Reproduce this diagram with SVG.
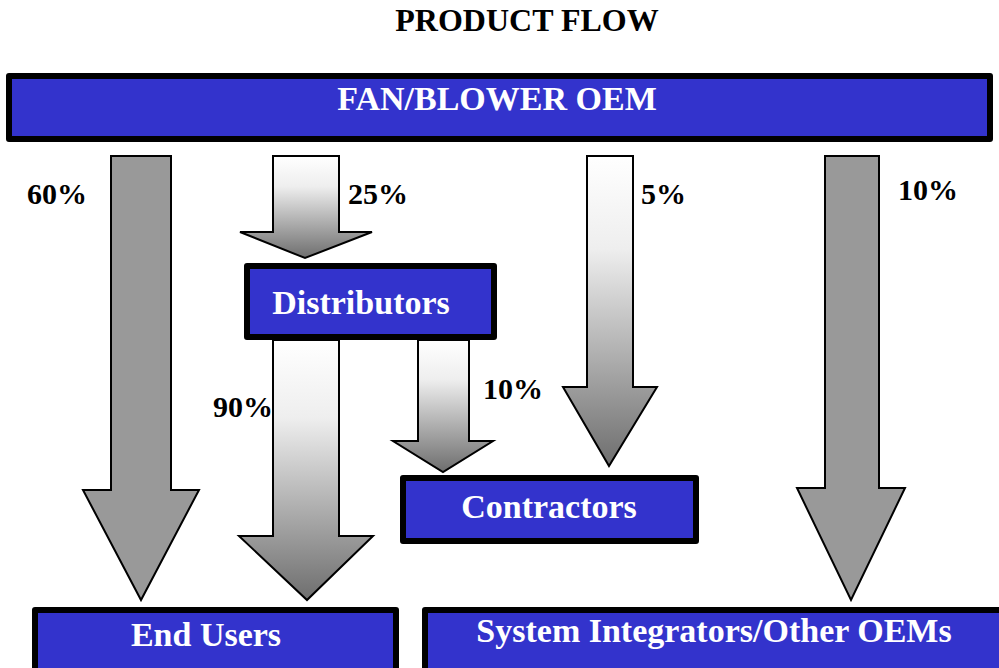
<svg xmlns="http://www.w3.org/2000/svg" width="999" height="668" viewBox="0 0 999 668">
<style>
.box{fill:#3333CC;stroke:#000;stroke-width:6;stroke-linejoin:round}
.bt{font-family:"Liberation Serif","Times New Roman",serif;font-weight:bold;fill:#fff;font-size:34px;text-anchor:middle}
.lbl{font-family:"Liberation Serif","Times New Roman",serif;font-weight:bold;fill:#000;font-size:30px}
.solid{fill:#999999;stroke:#000;stroke-width:2}
.grad{fill:url(#g);stroke:#000;stroke-width:2}
</style>
<defs>
<linearGradient id="g" x1="0" y1="0" x2="0" y2="1">
<stop offset="0" stop-color="#ffffff"/>
<stop offset="0.3" stop-color="#eeeeee"/>
<stop offset="1" stop-color="#6e6e6e"/>
</linearGradient>
</defs>
<rect width="999" height="668" fill="#fff"/>
<text x="527" y="31" font-family="Liberation Serif,Times New Roman,serif" font-weight="bold" font-size="32" text-anchor="middle">PRODUCT FLOW</text>
<g id="connectors">
<polygon class="solid" points="111,156 171,156 171,490 199,490 141,600 83,490 111,490"/>
<polygon class="grad" points="273,156 339,156 339,232 372,232 305,258 240,232 273,232"/>
<polygon class="grad" points="273,340 339,340 339,536 373,536 307,600 239,536 273,536"/>
<polygon class="grad" points="418,340 469,340 469,441 493,441 443,472 393,441 418,441"/>
<polygon class="grad" points="587,156 633,156 633,387 657,387 609,466 563,387 587,387"/>
<polygon class="solid" points="825,156 879,156 879,488 905,488 851,600 797,488 825,488"/>
</g>
<g id="labels">
<text class="lbl" x="27" y="204">60%</text>
<text class="lbl" x="348" y="204">25%</text>
<text class="lbl" x="641" y="204">5%</text>
<text class="lbl" x="898" y="200">10%</text>
<text class="lbl" x="213" y="417">90%</text>
<text class="lbl" x="483" y="399">10%</text>
</g>
<g id="fan-blower-oem">
<rect class="box" x="9" y="76" width="981" height="63"/>
<text class="bt" x="497" y="110">FAN/BLOWER OEM</text>
</g>
<g id="distributors">
<rect class="box" x="247" y="266" width="247" height="71"/>
<text class="bt" x="361" y="314">Distributors</text>
</g>
<g id="contractors">
<rect class="box" x="403" y="478" width="293" height="63"/>
<text class="bt" x="549" y="518">Contractors</text>
</g>
<g id="end-users">
<rect class="box" x="35" y="610" width="361" height="70"/>
<text class="bt" x="206" y="646">End Users</text>
</g>
<g id="system-integrators">
<rect class="box" x="425" y="610" width="590" height="70"/>
<text class="bt" x="714" y="642">System Integrators/Other OEMs</text>
</g>
</svg>
